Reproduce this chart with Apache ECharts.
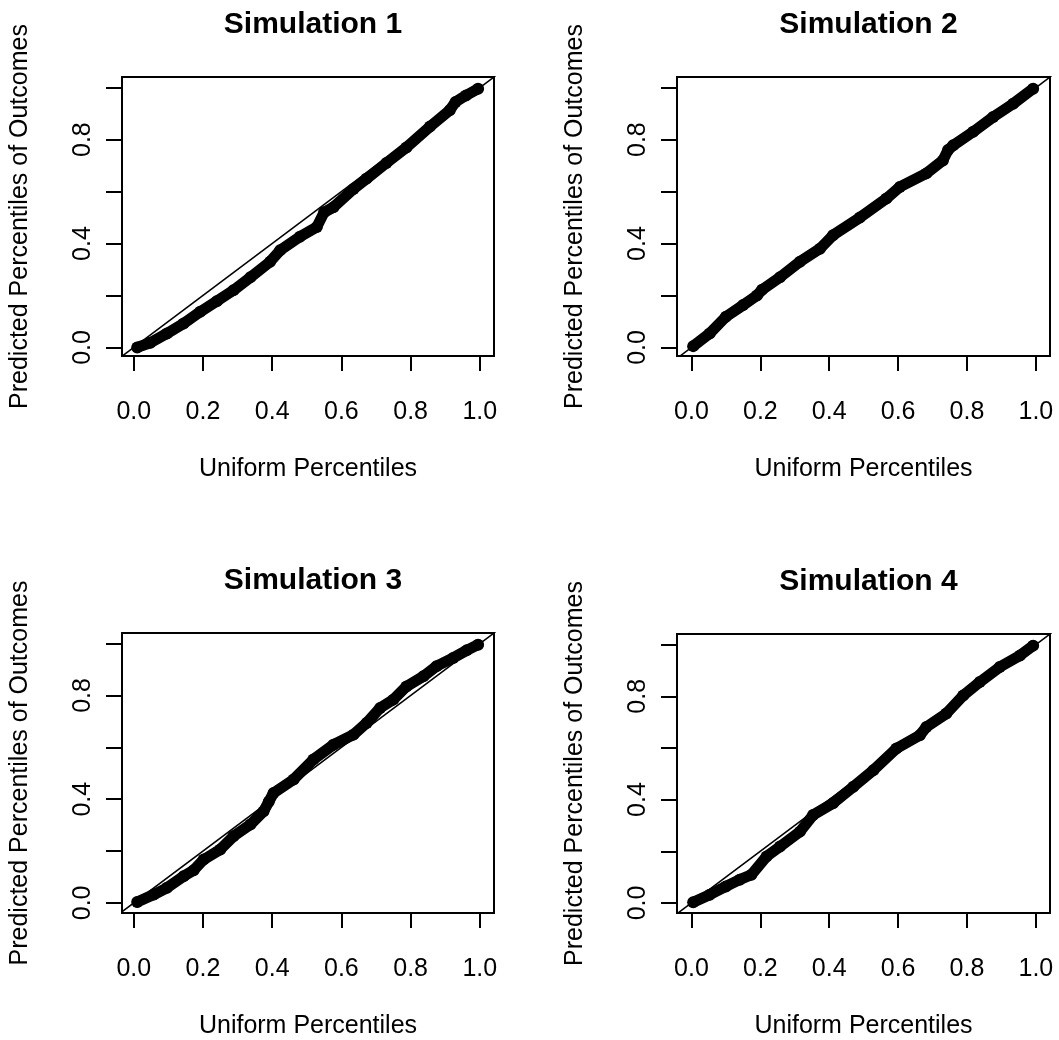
<!DOCTYPE html>
<html>
<head>
<meta charset="utf-8">
<script src="https://cdn.jsdelivr.net/npm/echarts@6/dist/echarts.min.js"></script>
<style>
html,body{margin:0;padding:0;background:#fff;}
#chart{width:1059px;height:1040px;}
</style>
</head>
<body>
<div id="chart"></div>
<script>
// ---- data ----
const titles = ["Simulation 1", "Simulation 2", "Simulation 3", "Simulation 4"];
const xAxisTitle = "Uniform Percentiles";
const yAxisTitle = "Predicted Percentiles of Outcomes";
const xTicks = [0, 0.2, 0.4, 0.6, 0.8, 1.0];
const yTicks = [0, 0.2, 0.4, 0.6, 0.8, 1.0];
const yTickLabels = [0, 0.4, 0.8];

const sim1X = [0.01, 0.048, 0.096, 0.144, 0.192, 0.24, 0.288, 0.337, 0.394, 0.423, 0.48, 0.529, 0.55, 0.577, 0.635, 0.673, 0.73, 0.788, 0.856, 0.913, 0.93, 0.96, 0.995];
const sim1Y = [0.0, 0.018, 0.054, 0.092, 0.137, 0.178, 0.22, 0.27, 0.33, 0.374, 0.426, 0.464, 0.52, 0.54, 0.61, 0.65, 0.71, 0.77, 0.85, 0.913, 0.945, 0.97, 0.996];

const sim2X = [0.005, 0.053, 0.10, 0.15, 0.19, 0.205, 0.257, 0.315, 0.373, 0.411, 0.489, 0.566, 0.605, 0.682, 0.73, 0.745, 0.76, 0.818, 0.876, 0.934, 0.992];
const sim2Y = [0.005, 0.054, 0.118, 0.163, 0.2, 0.222, 0.27, 0.33, 0.38, 0.432, 0.50, 0.573, 0.618, 0.67, 0.72, 0.76, 0.778, 0.83, 0.887, 0.938, 0.996];

const sim3X = [0.01, 0.058, 0.096, 0.144, 0.173, 0.202, 0.25, 0.288, 0.337, 0.375, 0.39, 0.404, 0.462, 0.519, 0.577, 0.635, 0.673, 0.712, 0.75, 0.788, 0.837, 0.875, 0.923, 0.962, 0.995];
const sim3Y = [0.003, 0.032, 0.058, 0.103, 0.126, 0.167, 0.206, 0.257, 0.302, 0.353, 0.39, 0.424, 0.476, 0.553, 0.61, 0.649, 0.694, 0.752, 0.784, 0.835, 0.874, 0.913, 0.945, 0.974, 0.996];

const sim4X = [0.005, 0.053, 0.10, 0.14, 0.174, 0.218, 0.257, 0.315, 0.353, 0.411, 0.47, 0.528, 0.595, 0.663, 0.682, 0.74, 0.789, 0.837, 0.895, 0.954, 0.992];
const sim4Y = [0.003, 0.032, 0.064, 0.09, 0.109, 0.18, 0.218, 0.276, 0.34, 0.386, 0.45, 0.514, 0.598, 0.649, 0.681, 0.733, 0.803, 0.855, 0.913, 0.958, 0.996];

const simX = [sim1X, sim2X, sim3X, sim4X];
const simY = [sim1Y, sim2Y, sim3Y, sim4Y];

// axis ranges (R style 4% extension)
const xRanges = [[-0.034, 1.041], [-0.042, 1.041], [-0.034, 1.041], [-0.042, 1.041]];
const yRanges = [[-0.033, 1.041], [-0.033, 1.041], [-0.039, 1.041], [-0.039, 1.041]];

// ---- layout ----
const grids = [
  {left: 122, top: 77, width: 372, height: 279},
  {left: 677, top: 77, width: 373, height: 279},
  {left: 122, top: 633, width: 372, height: 280},
  {left: 677, top: 634, width: 373, height: 279}
];

const FONT = "'Liberation Sans', Arial, Helvetica, sans-serif";
const fmt = v => v.toFixed(1);

const option = {
  animation: false,
  backgroundColor: '#fff',
  title: [], grid: [], xAxis: [], yAxis: [], series: []
};

grids.forEach((g, i) => {
  option.grid.push(Object.assign({show: true, borderColor: '#000', borderWidth: 2, backgroundColor: 'transparent', containLabel: false}, g));
  option.title.push({
    text: titles[i],
    left: g.left + g.width / 2,
    top: g.top - 72,
    textAlign: 'center',
    textStyle: {fontFamily: FONT, fontSize: 30, fontWeight: 'bold', color: '#000'}
  });
  option.xAxis.push({
    type: 'value', gridIndex: i, position: 'bottom',
    min: xRanges[i][0], max: xRanges[i][1],
    name: xAxisTitle, nameLocation: 'middle', nameGap: 101,
    nameTextStyle: {fontFamily: FONT, fontSize: 25, color: '#000'},
    axisLine: {show: false, onZero: false},
    axisTick: {show: true, customValues: xTicks, length: 15, lineStyle: {color: '#000', width: 2}},
    axisLabel: {show: true, customValues: xTicks, formatter: fmt, margin: 44, fontFamily: FONT, fontSize: 25, color: '#000'},
    splitLine: {show: false}
  });
  option.yAxis.push({
    type: 'value', gridIndex: i, position: 'left',
    min: yRanges[i][0], max: yRanges[i][1],
    name: yAxisTitle, nameLocation: 'middle', nameGap: 89,
    nameTextStyle: {fontFamily: FONT, fontSize: 25, color: '#000'},
    axisLine: {show: false, onZero: false},
    axisTick: {show: true, customValues: yTicks, length: 16, lineStyle: {color: '#000', width: 2}},
    axisLabel: {show: true, customValues: yTickLabels, formatter: fmt, rotate: 90, margin: 26, fontFamily: FONT, fontSize: 25, color: '#000'},
    splitLine: {show: false}
  });
  option.series.push({
    type: 'line', xAxisIndex: i, yAxisIndex: i,
    data: [[-0.2, -0.2], [1.2, 1.2]],
    symbol: 'none', clip: true, silent: true,
    lineStyle: {color: '#000', width: 1.5}
  });
  option.series.push({
    type: 'line', xAxisIndex: i, yAxisIndex: i,
    data: simX[i].map((x, k) => [x, simY[i][k]]),
    symbol: 'circle', symbolSize: 12, showSymbol: true, clip: false,
    itemStyle: {color: '#000'},
    lineStyle: {color: '#000', width: 11, cap: 'round', join: 'round'}
  });
});

const chart = echarts.init(document.getElementById('chart'), null, {renderer: 'canvas'});
chart.setOption(option);
</script>
</body>
</html>
